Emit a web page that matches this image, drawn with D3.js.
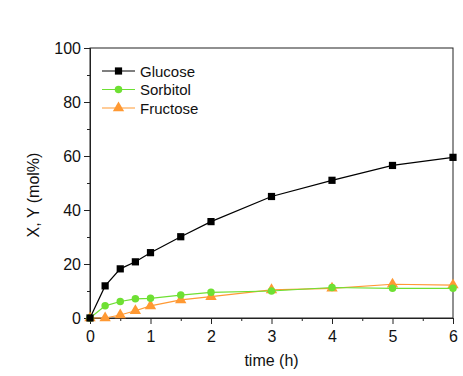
<!DOCTYPE html>
<html><head><meta charset="utf-8">
<script src="https://cdn.jsdelivr.net/npm/d3@7"></script>
<style>body{margin:0;background:#fff}svg{font-family:"Liberation Sans",Arial,sans-serif}</style>
</head><body><svg id="c" width="463" height="376"></svg>
<script>
const times = [0, 0.25, 0.5, 0.75, 1, 1.5, 2, 3, 4, 5, 6];
const glucose = [0, 11.9, 18.2, 20.8, 24.2, 30.1, 35.7, 45.0, 51.0, 56.5, 59.5];
const sorbitol = [0, 4.5, 6.1, 7.1, 7.3, 8.5, 9.5, 10.0, 11.3, 11.0, 11.0];
const fructose = [0, 0, 1.1, 2.7, 4.5, 6.7, 7.9, 10.4, 11.0, 12.5, 12.2];
const seriesNames = ["Glucose", "Sorbitol", "Fructose"];
const xTicks = [0, 1, 2, 3, 4, 5, 6];
const yTicks = [0, 20, 40, 60, 80, 100];

const svg = d3.select("#c");
const L = 90, R = 453, T = 48, B = 318;
const x = d3.scaleLinear().domain([0, 6]).range([L, R]);
const y = d3.scaleLinear().domain([0, 100]).range([B, T]);

svg.append("rect").attr("x", L).attr("y", T).attr("width", R - L).attr("height", B - T)
  .attr("fill", "none").attr("stroke", "#222").attr("stroke-width", 1);

const xa = svg.append("g").attr("transform", `translate(0,${B})`)
  .call(d3.axisBottom(x).tickValues(xTicks).tickFormat(d3.format("d")).tickSize(6).tickPadding(7));
const xm = svg.append("g").attr("transform", `translate(0,${B})`)
  .call(d3.axisBottom(x).tickValues(d3.range(0.5, 6, 1)).tickFormat("").tickSize(3));
const ya = svg.append("g").attr("transform", `translate(${L},0)`)
  .call(d3.axisLeft(y).tickValues(yTicks).tickFormat(d3.format("d")).tickSize(6).tickPadding(3));
const ym = svg.append("g").attr("transform", `translate(${L},0)`)
  .call(d3.axisLeft(y).tickValues(d3.range(10, 100, 20)).tickFormat("").tickSize(3));
[xa, xm, ya, ym].forEach(g => {
  g.select(".domain").attr("stroke", "#222");
  g.selectAll(".tick line").attr("stroke", "#222");
  g.selectAll("text").attr("font-size", 16).attr("fill", "#111").attr("font-family", "Liberation Sans, Arial, sans-serif");
});

svg.append("text").attr("x", (L + R) / 2).attr("y", 366).attr("text-anchor", "middle")
  .attr("font-size", 16).attr("fill", "#111").text("time (h)");
svg.append("text").attr("transform", `translate(39,195) rotate(-90)`).attr("text-anchor", "middle")
  .attr("font-size", 16).attr("fill", "#111").text("X, Y (mol%)");

const data = [glucose, sorbitol, fructose];
const colors = ["#000000", "#6ee033", "#ff9933"];
const line = d3.line().x((d, i) => x(times[i])).y(d => y(d));
const sym = [d3.symbolSquare, d3.symbolCircle, d3.symbolTriangle];
const symSize = [52, 44, 56];

[2, 1, 0].forEach(k => {
  const g = svg.append("g");
  g.append("path").datum(data[k]).attr("d", line).attr("fill", "none")
    .attr("stroke", colors[k]).attr("stroke-width", 1.2);
  g.selectAll("path.m").data(data[k]).join("path").attr("class", "m")
    .attr("d", d3.symbol().type(sym[k]).size(symSize[k]))
    .attr("transform", (d, i) => `translate(${x(times[i])},${y(d)})`)
    .attr("fill", colors[k]);
});

seriesNames.forEach((n, k) => {
  const ly = 71 + k * 18.5;
  svg.append("line").attr("x1", 102).attr("x2", 135).attr("y1", ly).attr("y2", ly)
    .attr("stroke", colors[k]).attr("stroke-width", 1.2);
  svg.append("path").attr("d", d3.symbol().type(sym[k]).size(symSize[k])())
    .attr("transform", `translate(118.5,${ly})`).attr("fill", colors[k]);
  svg.append("text").attr("x", 140).attr("y", ly + 5.5).attr("font-size", 15).attr("fill", "#111").text(n);
});
</script></body></html>
